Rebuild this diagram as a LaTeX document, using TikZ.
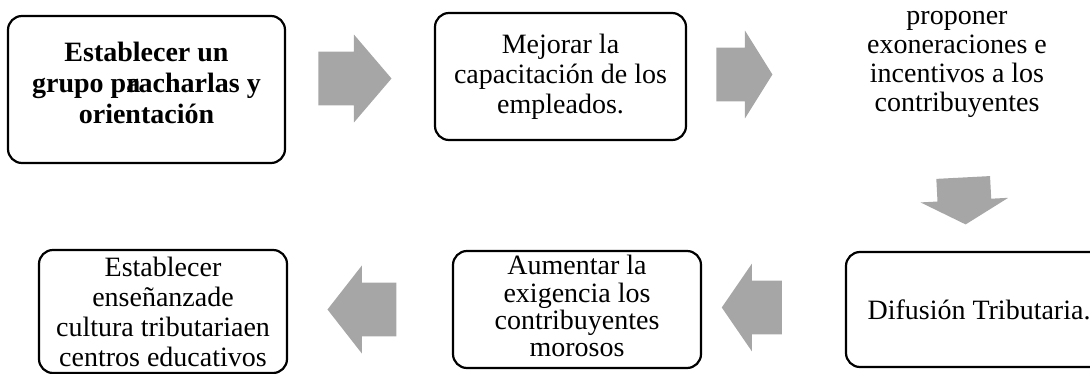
\documentclass[tikz,border=0pt]{standalone}
\usepackage{fontspec}
\setmainfont{Liberation Serif}
\usepackage{xcolor}
\usepackage{tikz}
\usetikzlibrary{positioning,shapes.arrows}
\definecolor{FlechaGris}{HTML}{A6A6A6}

\begin{document}
\begin{tikzpicture}[x=0.5pt, y=-0.5pt,
                      every node/.style={font=\fontsize{14}{15}\selectfont},
                      caja/.style={draw=black, line width=1.1pt, rounded corners=7pt,
                                   align=center, inner sep=1pt},
                      flecha/.style={single arrow, fill=FlechaGris, draw=none,
                                     inner xsep=0pt, inner ysep=13.25pt,
                                     single arrow head extend=8.5pt, minimum width=43.5pt}]
  \path[use as bounding box, clip] (0,0) rectangle (1090,374);
  % fila de arriba
  \node[caja, minimum width=138.5pt, minimum height=73.5pt,
        font=\fontsize{14}{15.5}\selectfont\bfseries] (grupo) at (146.5,89.5)
        {Establecer un\\ grupo p\rlap{a}racharlas y\\ orientación\\[-9pt]\mbox{}};
  \node[caja, minimum width=125.5pt, minimum height=63.5pt] (capacita) at (560.5,76.5)
        {Mejorar la\\ capacitación de los\\ empleados.};
  \node[align=center, font=\fontsize{14}{14.5}\selectfont] (exonera) at (957,64)
        {proponer\\ exoneraciones e\\ incentivos a los\\ contribuyentes};
  % fila de abajo
  \node[caja, minimum width=133pt, minimum height=57.5pt] (difusion) at (979,309.5)
        {Difusión Tributaria.};
  \node[caja, minimum width=124pt, minimum height=58.5pt,
        font=\fontsize{14}{13.6}\selectfont] (exigencia) at (577,309.5)
        {Aumentar la\\ exigencia los\\ contribuyentes\\ morosos\\[-10pt]\mbox{}};
  \node[caja, minimum width=124pt, minimum height=61.5pt] (ensenanza) at (163,311.5)
        {Establecer\\ enseñanzade\\ cultura tributariaen\\ centros educativos};
  % flechas grises
  \node[flecha, minimum height=36.5pt, single arrow tip angle=99] (flechaA) at (343.5,78.5) {};
  \node[flecha, minimum height=28pt, single arrow tip angle=116] (flechaB) at (736,74.5) {};
  \node[flecha, minimum height=23.5pt, single arrow tip angle=122, rotate=-87] (flechaC) at (964,193.5) {};
  \node[flecha, minimum height=30pt, single arrow tip angle=111, rotate=180] (flechaD) at (761,307.5) {};
  \node[flecha, minimum height=34.5pt, single arrow tip angle=104, rotate=180] (flechaE) at (372.5,309.5) {};
\end{tikzpicture}
\end{document}
